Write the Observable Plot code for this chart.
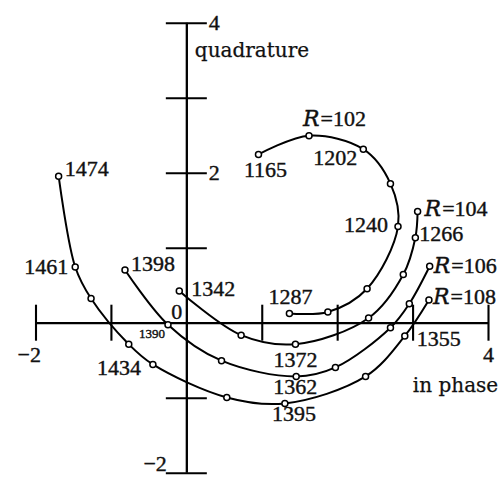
<!DOCTYPE html>
<html>
<head>
<meta charset="utf-8">
<script src="https://cdn.jsdelivr.net/npm/d3@7"></script>
<script src="https://cdn.jsdelivr.net/npm/@observablehq/plot@0.6"></script>
<style>
  html, body { margin: 0; padding: 0; background: #fff; }
  svg { display: block; }
</style>
</head>
<body>
<div id="chart"></div>
<script>
// Response loci (in phase vs quadrature) for four values of R.
const seriesNames = ["R=102", "R=104", "R=106", "R=108"];

const r102InPhase = [0.95, 1.62, 2.34, 2.70, 2.80, 2.39, 1.87, 1.36];
const r102Quad    = [2.25, 2.50, 2.32, 1.86, 1.29, 0.46, 0.15, 0.13];
const r102Tags    = ["1165", "R=102", "1202", "", "1240", "", "", "1287"];

const r104InPhase = [3.06, 3.03, 2.87, 2.41, 1.44, 0.72, -0.10];
const r104Quad    = [1.49, 1.14, 0.65, 0.07, -0.28, -0.16, 0.43];
const r104Tags    = ["R=104", "1266", "", "", "1372", "", "1342"];

const r106InPhase = [3.22, 2.95, 2.70, 1.97, 1.45, 0.46, -0.25, -0.82];
const r106Quad    = [0.76, 0.26, -0.06, -0.59, -0.71, -0.50, -0.02, 0.71];
const r106Tags    = ["R=106", "", "", "", "1362", "", "1390", "1398"];

const r108InPhase = [3.21, 2.89, 2.37, 1.30, 0.53, -0.45, -0.77, -1.27, -1.48, -1.70];
const r108Quad    = [0.31, -0.17, -0.71, -1.07, -0.99, -0.55, -0.28, 0.33, 0.75, 1.96];
const r108Tags    = ["R=108", "1355", "", "1395", "", "1434", "", "", "1461", "1474"];

const xTicks = [-2, -1, 1, 2, 3, 4];
const yTicks = [-2, -1, 1, 2, 3, 4];
const xTickLabels = [{v: -2, t: "\u22122"}, {v: 4, t: "4"}];
const yTickLabels = [{v: 4, t: "4"}, {v: 2, t: "2"}, {v: -2, t: "\u22122"}];

const seriesData = [
  [r102InPhase, r102Quad, r102Tags],
  [r104InPhase, r104Quad, r104Tags],
  [r106InPhase, r106Quad, r106Tags],
  [r108InPhase, r108Quad, r108Tags]
];

const rows = seriesData.flatMap(([xs, ys, tags], s) =>
  xs.map((x, i) => ({series: seriesNames[s], x, y: ys[i], tag: tags[i]}))
);

// Placement of each point label relative to its point (pixels).
const tagPlacement = {
  "1165": {dx: 7, dy: 16, anchor: "middle"},
  "R=102": {dx: -6, dy: -17, anchor: "start"},
  "1202": {dx: -6, dy: 9, anchor: "end"},
  "1240": {dx: -10, dy: -1, anchor: "end"},
  "1287": {dx: 1, dy: -16, anchor: "middle"},
  "R=104": {dx: 7, dy: -2, anchor: "start"},
  "1266": {dx: 4, dy: -4, anchor: "start"},
  "1372": {dx: 0, dy: 16, anchor: "middle"},
  "1342": {dx: 12, dy: -2, anchor: "start"},
  "R=106": {dx: 4, dy: 0, anchor: "start"},
  "1362": {dx: -1, dy: 11, anchor: "middle"},
  "1390": {dx: -3, dy: 9, anchor: "end", size: 13},
  "1398": {dx: 6, dy: -6, anchor: "start"},
  "R=108": {dx: 4, dy: -3, anchor: "start"},
  "1355": {dx: 12, dy: 3, anchor: "start"},
  "1395": {dx: 9, dy: 11, anchor: "middle"},
  "1434": {dx: -12, dy: 4, anchor: "end"},
  "1461": {dx: -7, dy: 0, anchor: "end"},
  "1474": {dx: 6, dy: -7, anchor: "start"}
};

const numFont = "'Liberation Serif', 'Times New Roman', serif";
const wordFont = "'DejaVu Serif', serif";
const numSize = 22;

const tagMarks = rows.filter(d => d.tag).map(d => {
  const p = tagPlacement[d.tag];
  return Plot.text([d], {
    x: "x", y: "y", text: "tag",
    dx: p.dx, dy: p.dy, textAnchor: p.anchor,
    fontSize: p.size || numSize, fill: "black"
  });
});

const chart = Plot.plot({
  width: 501,
  height: 478,
  marginLeft: 35.5,
  marginRight: 13,
  marginTop: 22.7,
  marginBottom: 5.3,
  x: {domain: [-2, 4], axis: null},
  y: {domain: [-2, 4], axis: null},
  style: {background: "white", overflow: "visible"},
  marks: [
    // axes
    Plot.ruleY([0], {x1: -2, x2: 4, stroke: "black", strokeWidth: 2.3}),
    Plot.ruleX([0], {y1: -2, y2: 4, stroke: "black", strokeWidth: 2.3}),
    Plot.ruleX(xTicks, {x: d => d, y1: 0, y2: 0, insetTop: -18, insetBottom: -18, stroke: "black", strokeWidth: 2.1}),
    Plot.ruleY(yTicks, {y: d => d, x1: 0, x2: 0, insetLeft: -20.5, insetRight: -20.5, stroke: "black", strokeWidth: 2.1}),
    // tick labels
    Plot.text(xTickLabels.filter(d => d.v < 0), {x: "v", y: 0, text: "t", dx: 5, dy: 32, textAnchor: "end", fontSize: numSize}),
    Plot.text(xTickLabels.filter(d => d.v > 0), {x: "v", y: 0, text: "t", dx: 0, dy: 32, textAnchor: "middle", fontSize: numSize}),
    Plot.text(yTickLabels.filter(d => d.v > 0), {x: 0, y: "v", text: "t", dx: 22, textAnchor: "start", fontSize: numSize}),
    Plot.text(yTickLabels.filter(d => d.v < 0), {x: 0, y: "v", text: "t", dx: -20, dy: -9, textAnchor: "end", fontSize: numSize}),
    Plot.text(["0"], {x: 0, y: 0, text: d => d, dx: -10, dy: -11, textAnchor: "middle", fontSize: numSize}),
    // axis titles
    Plot.text(["quadrature"], {x: 0, y: 4, text: d => d, dx: 8, dy: 27, textAnchor: "start", fontSize: 20}),
    Plot.text(["in phase"], {x: 4, y: 0, text: d => d, dx: -33, dy: 62, textAnchor: "middle", fontSize: 20}),
    // loci
    Plot.line(rows, {x: "x", y: "y", z: "series", curve: "catmull-rom", stroke: "black", strokeWidth: 2}),
    Plot.dot(rows, {x: "x", y: "y", r: 3, fill: "white", stroke: "black", strokeWidth: 1.5}),
    ...tagMarks
  ]
});

const svg = d3.select(chart);

// serif type throughout, slightly heavy like letterpress; axis titles in the wider face
svg.selectAll("text").each(function () {
  const words = this.textContent === "quadrature" || this.textContent === "in phase";
  d3.select(this)
    .style("font-family", words ? wordFont : numFont)
    .style("fill", "#111")
    .style("stroke", "#111")
    .style("stroke-width", words ? 0.25 : 0.4);
});

// italic R in the series labels
svg.selectAll("text")
  .filter(function () { return this.textContent.startsWith("R="); })
  .each(function () {
    const t = this.textContent;
    const sel = d3.select(this);
    sel.text(null);
    sel.append("tspan").style("font-family", wordFont).style("font-style", "italic").text("R");
    sel.append("tspan").attr("dx", 1).text("=" + t.slice(2));
  });

document.getElementById("chart").appendChild(chart);
</script>
</body>
</html>
